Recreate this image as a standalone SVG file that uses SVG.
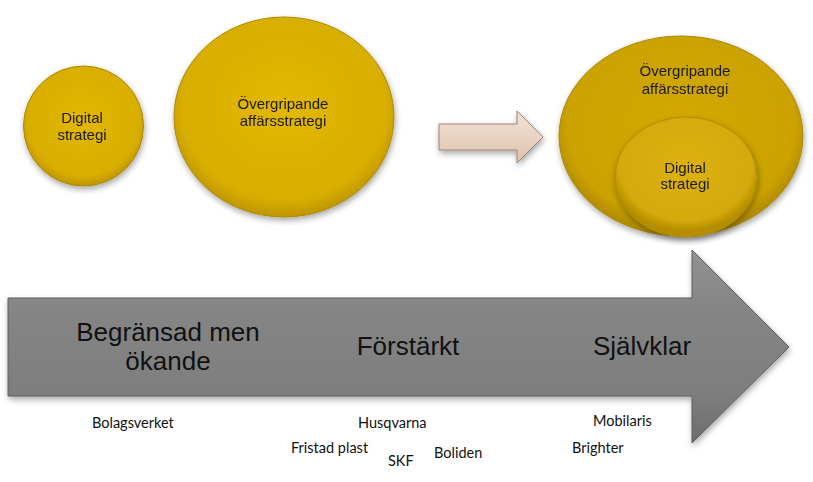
<svg xmlns="http://www.w3.org/2000/svg" width="813" height="482" viewBox="0 0 813 482">
<defs>
<radialGradient id="gold" cx="50%" cy="45%" r="55%">
<stop offset="0" stop-color="#E2B800"/>
<stop offset="0.85" stop-color="#D8AE00"/>
<stop offset="1" stop-color="#BE9500"/>
</radialGradient>
<radialGradient id="gold2" cx="50%" cy="45%" r="55%">
<stop offset="0" stop-color="#D2A806"/>
<stop offset="0.85" stop-color="#CBA205"/>
<stop offset="1" stop-color="#AC8700"/>
</radialGradient>
<radialGradient id="gold3" cx="50%" cy="40%" r="55%">
<stop offset="0" stop-color="#DDB20A"/>
<stop offset="0.85" stop-color="#D3A908"/>
<stop offset="1" stop-color="#B48D02"/>
</radialGradient>
<linearGradient id="peach" x1="0" y1="0" x2="0" y2="1">
<stop offset="0" stop-color="#F3E2D6"/>
<stop offset="0.5" stop-color="#E9D3C2"/>
<stop offset="1" stop-color="#DCC0AC"/>
</linearGradient>
<linearGradient id="gray" x1="0" y1="0" x2="0" y2="1">
<stop offset="0" stop-color="#929292"/>
<stop offset="0.3" stop-color="#858585"/>
<stop offset="0.75" stop-color="#7E7E7E"/>
<stop offset="1" stop-color="#6C6C6C"/>
</linearGradient>
<filter id="sh" x="-10%" y="-10%" width="130%" height="130%">
<feGaussianBlur in="SourceAlpha" stdDeviation="3"/>
<feOffset dx="1" dy="3" result="b"/>
<feComponentTransfer><feFuncA type="linear" slope="0.35"/></feComponentTransfer>
<feMerge><feMergeNode/><feMergeNode in="SourceGraphic"/></feMerge>
</filter>
<style>
.c{font-family:"Liberation Sans",Arial,sans-serif;font-size:15px;fill:#1a1a1a;text-anchor:middle}
.big{font-family:"Liberation Sans",Arial,sans-serif;font-size:26px;fill:#111;text-anchor:middle}
.co{font-family:"Lato","Open Sans",sans-serif;font-size:14.5px;fill:#111}
.gedge{stroke:#AC8A00;stroke-width:1}
</style>
</defs>
<rect width="813" height="482" fill="#fff"/>

<g id="connectors">
<path id="small-arrow" d="M439,124 L517,124 L517,111 L543,137 L517,163 L517,150 L439,150 Z" fill="url(#peach)" stroke="#A08572" stroke-width="1" filter="url(#sh)"/>
</g>

<g id="node-digital-left" filter="url(#sh)">
<circle cx="83.5" cy="126" r="60" fill="url(#gold)" class="gedge"/>
<text class="c" x="82" y="123">Digital</text>
<text class="c" x="82" y="140">strategi</text>
</g>

<g id="node-overgripande-left" filter="url(#sh)">
<ellipse cx="284" cy="117" rx="110" ry="100" fill="url(#gold)" class="gedge"/>
<text class="c" x="283" y="109">Övergripande</text>
<text class="c" x="283" y="126">affärsstrategi</text>
</g>

<g id="node-overgripande-right" filter="url(#sh)">
<ellipse cx="681" cy="136" rx="122" ry="100" fill="url(#gold2)" class="gedge"/>
<text class="c" x="685" y="76">Övergripande</text>
<text class="c" x="685" y="94">affärsstrategi</text>
</g>

<g id="node-digital-right" filter="url(#sh)">
<ellipse cx="686" cy="177" rx="71" ry="60" fill="url(#gold3)" stroke="#B08C04" stroke-width="1"/>
<text class="c" x="685" y="173">Digital</text>
<text class="c" x="685" y="189">strategi</text>
</g>

<g id="timeline-arrow">
<path d="M8,298 L692,298 L692,250 L789,347 L692,443 L692,396 L8,396 Z" fill="url(#gray)" stroke="#5E5E5E" stroke-width="1" filter="url(#sh)"/>
<text class="big" x="168" y="340.5">Begränsad men</text>
<text class="big" x="168" y="370">ökande</text>
<text class="big" x="408" y="355">Förstärkt</text>
<text class="big" x="642" y="355">Självklar</text>
</g>

<g id="companies">
<text class="co" x="92" y="428">Bolagsverket</text>
<text class="co" x="358" y="428">Husqvarna</text>
<text class="co" x="291" y="453">Fristad plast</text>
<text class="co" x="388" y="466">SKF</text>
<text class="co" x="434" y="458">Boliden</text>
<text class="co" x="593" y="426">Mobilaris</text>
<text class="co" x="572" y="453">Brighter</text>
</g>
</svg>
